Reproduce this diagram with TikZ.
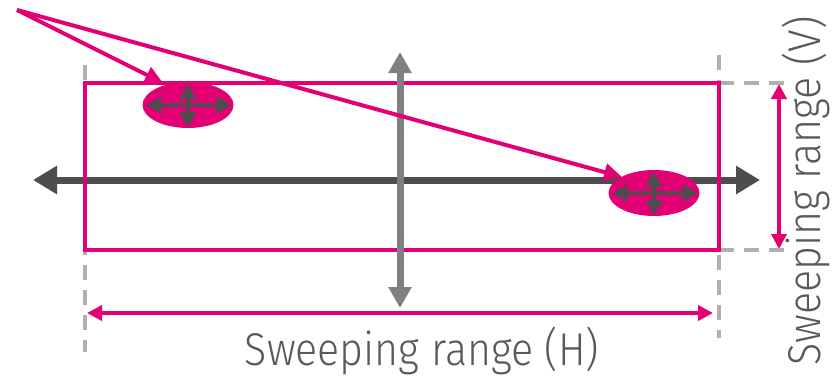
\documentclass[tikz,border=0pt]{standalone}
\usepackage{fontspec}
\setmainfont{Fira Sans Light}[FakeStretch=0.895]
\usepackage{tikz}
\usetikzlibrary{arrows.meta,shapes.geometric}
\definecolor{tmag}{HTML}{E20074}
\definecolor{axisdark}{HTML}{4D4D4D}
\definecolor{axislight}{HTML}{808080}
\definecolor{guidegray}{HTML}{B0B0B0}
\definecolor{labelgray}{HTML}{595959}
\tikzset{
  sweepbox/.style={draw=tmag, line width=3.8pt},
  guide/.style={draw=guidegray, line width=3.5pt, dash pattern=on 15pt off 10pt},
  darkaxis/.style={draw=axisdark, line width=7pt,
    {Triangle[length=24pt,width=27pt]}-{Triangle[length=24pt,width=27pt]}},
  lightaxis/.style={draw=axislight, line width=7pt,
    {Triangle[length=21pt,width=22pt]}-{Triangle[length=21pt,width=22pt]}},
  spot/.style={ellipse, fill=tmag, minimum width=91pt, minimum height=46pt, inner sep=0pt},
  spotcross/.style={draw=axisdark, line width=4.5pt,
    {Triangle[length=15pt,width=16pt]}-{Triangle[length=15pt,width=16pt]}},
  pointer/.style={draw=tmag, line width=4pt, -{Triangle[length=18pt,width=17pt]}},
  dimarrow/.style={draw=tmag, line width=4pt,
    {Triangle[length=15pt,width=15pt]}-{Triangle[length=15pt,width=15pt]}},
  rangelabel/.style={text=labelgray, font=\fontsize{46}{50}\selectfont, inner sep=0pt},
}
\begin{document}
\begin{tikzpicture}[x=1pt, y=-1pt]
  \useasboundingbox (0,0) rectangle (836,376);
  % corners of the sweeping area
  \coordinate (tl) at (85,83);
  \coordinate (br) at (719,250);
  % dashed guides
  \draw[guide] (85,65) -- (85,352);
  \draw[guide] (719,55) -- (719,338);
  \draw[guide] (719,83) -- (792,83);
  \draw[guide] (719,250) -- (792,250);
  % axes and area
  \coordinate (hl) at (33,180);
  \coordinate (hr) at (760,180);
  \draw[darkaxis] (hl) -- (hr);
  \draw[sweepbox] (tl) rectangle (br);
  \coordinate (vt) at (400,52);
  \coordinate (vb) at (400,308);
  \draw[lightaxis] (vt) -- (vb);
  % beam spots
  \node[spot] (spotA) at (188,105) {};
  \node[spot] (spotB) at (654,193) {};
  \foreach \s in {spotA,spotB} {
    \draw[spotcross] ([xshift=4pt]\s.west) -- ([xshift=-2pt]\s.east);
    \draw[spotcross] ([yshift=-2pt]\s.north) -- ([yshift=1pt]\s.south);
  }
  % pointers
  \coordinate (src) at (17,10);
  \coordinate (tipA) at (163,83);
  \coordinate (tipB) at (622,177);
  \draw[pointer] (src) -- (tipA);
  \draw[pointer] (src) -- (tipB);
  % ranges
  \coordinate (hs) at (87,313);
  \coordinate (he) at (713,313);
  \draw[dimarrow] (hs) -- (he);
  \coordinate (vs) at (779,84);
  \coordinate (ve) at (779,249);
  \draw[dimarrow] (vs) -- (ve);
  \node[rangelabel, anchor=base] (labH) at (422,365) {Sweeping range (H)};
  \node[rangelabel, anchor=base, rotate=90] (labV) at (820,191) {Sweeping range (V)};
\end{tikzpicture}
\end{document}
